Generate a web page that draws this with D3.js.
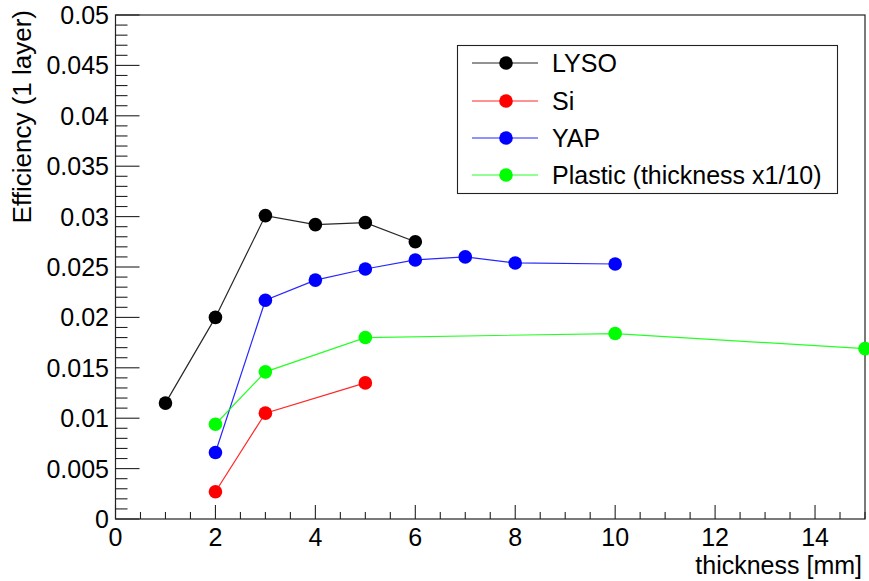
<!DOCTYPE html>
<html><head><meta charset="utf-8">
<script src="https://cdn.jsdelivr.net/npm/d3@7"></script>
<style>body{margin:0;background:#fff}svg{display:block}text{font-family:"Liberation Sans",Arial,Helvetica,sans-serif;fill:#000}</style>
</head><body>
<svg id="c" width="869" height="581"></svg>
<script>
const seriesNames = ["LYSO", "Si", "YAP", "Plastic (thickness x1/10)"];
const seriesColors = ["#000000", "#ff0000", "#0000ff", "#00ff00"];
const lysoX = [1, 2, 3, 4, 5, 6];
const lysoY = [0.0115, 0.0200, 0.0301, 0.0292, 0.0294, 0.0275];
const siX = [2, 3, 5];
const siY = [0.0027, 0.0105, 0.0135];
const yapX = [2, 3, 4, 5, 6, 7, 8, 10];
const yapY = [0.0066, 0.0217, 0.0237, 0.0248, 0.0257, 0.0260, 0.0254, 0.0253];
const plasticX = [2, 3, 5, 10, 15];
const plasticY = [0.0094, 0.0146, 0.0180, 0.0184, 0.0169];
const xTicks = [0, 2, 4, 6, 8, 10, 12, 14];
const yTicks = [0, 0.005, 0.01, 0.015, 0.02, 0.025, 0.03, 0.035, 0.04, 0.045, 0.05];
const xTitle = "thickness [mm]";
const yTitle = "Efficiency (1 layer)";

const L = 115.5, R = 865, T = 15, B = 519;
const FS = 25;
const svg = d3.select("#c");
const x = d3.scaleLinear().domain([0, 15]).range([L, R]);
const y = d3.scaleLinear().domain([0, 0.05]).range([B, T]);

// frame
svg.append("rect").attr("x", L).attr("y", T).attr("width", R - L).attr("height", B - T)
  .attr("fill", "none").attr("stroke", "#222").attr("stroke-width", 1.2);

// x axis ticks
const xMinor = d3.range(0, 15.001, 0.5);
svg.append("g").selectAll("line").data(xMinor).join("line")
  .attr("x1", d => x(d)).attr("x2", d => x(d))
  .attr("y1", B).attr("y2", d => (Math.abs(d % 2) < 1e-6 ? B - 14 : B - 7))
  .attr("stroke", "#222").attr("stroke-width", 1.1);
svg.append("g").selectAll("text").data(xTicks).join("text")
  .attr("x", d => x(d)).attr("y", 546).attr("text-anchor", "middle")
  .attr("font-size", FS).text(d => d3.format("d")(d));

// y axis ticks
const yMinor = d3.range(0, 0.05001, 0.001);
svg.append("g").selectAll("line").data(yMinor).join("line")
  .attr("x1", L).attr("x2", (d, i) => (i % 5 === 0 ? L + 24 : L + 12))
  .attr("y1", d => y(d)).attr("y2", d => y(d))
  .attr("stroke", "#222").attr("stroke-width", 1.1);
svg.append("g").selectAll("text").data(yTicks).join("text")
  .attr("x", 109).attr("y", d => y(d) + 9).attr("text-anchor", "end")
  .attr("font-size", FS).text(d => d === 0 ? "0" : d3.format("~g")(d));

// titles
svg.append("text").attr("x", 862).attr("y", 574).attr("text-anchor", "end")
  .attr("font-size", 25).text(xTitle);
svg.append("text").attr("transform", "translate(31,10) rotate(-90)")
  .attr("text-anchor", "end").attr("font-size", 26).text(yTitle);

// series
const series = [
  {xs: lysoX, ys: lysoY},
  {xs: siX, ys: siY},
  {xs: yapX, ys: yapY},
  {xs: plasticX, ys: plasticY}
];
const line = d3.line().x(d => x(d[0])).y(d => y(d[1]));
series.forEach((s, i) => {
  const pts = s.xs.map((v, j) => [v, s.ys[j]]);
  const g = svg.append("g");
  g.append("path").attr("d", line(pts)).attr("fill", "none")
    .attr("stroke", seriesColors[i]).attr("stroke-width", 1.2).attr("opacity", 0.85);
  g.selectAll("circle").data(pts).join("circle")
    .attr("cx", d => x(d[0])).attr("cy", d => y(d[1])).attr("r", 6.8)
    .attr("fill", seriesColors[i]);
});

// legend
const lg = svg.append("g");
lg.append("rect").attr("x", 457.5).attr("y", 45.5).attr("width", 380).attr("height", 148)
  .attr("fill", "#fff").attr("stroke", "#222").attr("stroke-width", 1.1);
const rowY = [63, 101, 138, 175];
seriesNames.forEach((n, i) => {
  lg.append("line").attr("x1", 472).attr("x2", 538).attr("y1", rowY[i]).attr("y2", rowY[i])
    .attr("stroke", seriesColors[i]).attr("stroke-width", 1.2).attr("opacity", 0.85);
  lg.append("circle").attr("cx", 506).attr("cy", rowY[i]).attr("r", 6.8).attr("fill", seriesColors[i]);
  lg.append("text").attr("x", 552).attr("y", rowY[i] + 9).attr("font-size", FS).text(n);
});
</script>
</body></html>
